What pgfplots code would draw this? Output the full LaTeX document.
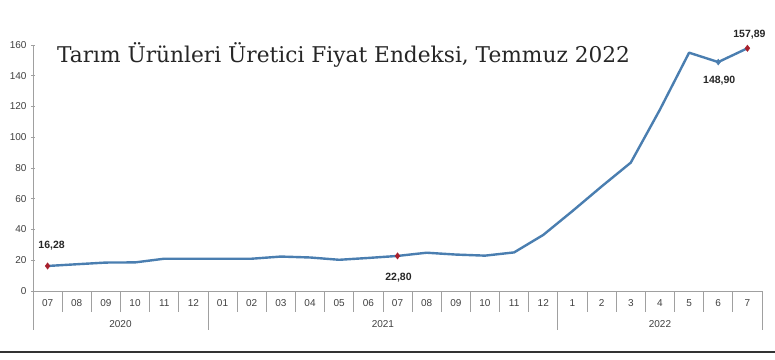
\documentclass[border=0pt]{standalone}
\usepackage{pgfplots}
\pgfplotsset{compat=1.18}
\usepackage{fontspec}
\setmainfont{Liberation Sans}
\newfontfamily\titlefont{DejaVu Serif}
\definecolor{linec}{HTML}{4A7EB0}
\definecolor{redm}{HTML}{A8202C}
\definecolor{axgray}{HTML}{A0A0A0}
\definecolor{txt}{HTML}{404040}
\begin{document}
\begin{tikzpicture}
\useasboundingbox (-33pt,-68pt) rectangle (742pt,291pt);
\begin{axis}[
  scale only axis, width=729pt, height=246pt,
  xmin=-0.5, xmax=24.5, ymin=0, ymax=160,
  axis x line=bottom, axis y line=left,
  axis line style={axgray, line width=0.8pt, -},
  xtick={0,...,24},
  xticklabels={07,08,09,10,11,12,01,02,03,04,05,06,07,08,09,10,11,12,1,2,3,4,5,6,7},
  x tick style={draw=none},
  xticklabel style={font=\fontsize{10}{11}\selectfont, text=txt, yshift=-3pt},
  ytick={0,20,...,160},
  y tick style={axgray, line width=0.8pt},
  major tick length=4pt,
  yticklabel style={font=\fontsize{10}{11}\selectfont, text=txt, xshift=-1pt},
  /pgf/number format/assume math mode=true,
  clip=false,
]
\addplot[linec, line width=2.4pt, line join=round, mark=none] coordinates {
(0,16.28) (1,17.4) (2,18.5) (3,18.6) (4,21.0) (5,21.0) (6,21.0) (7,21.0)
(8,22.4) (9,21.8) (10,20.3) (11,21.5) (12,22.80) (13,24.9) (14,23.7)
(15,23.0) (16,25.1) (17,36.5) (18,52) (19,68) (20,83.5) (21,118)
(22,155) (23,148.90) (24,157.89)};
\addplot[only marks, mark=diamond*, mark size=3.2pt, redm] coordinates {(0,16.28) (12,22.80) (24,157.89)};
\addplot[only marks, mark=diamond*, mark size=3pt, linec] coordinates {(23,148.90)};
\pgfplotsinvokeforeach{0.5,1.5,...,23.5}{
  \draw[axgray, line width=0.8pt] (axis cs:#1,0) -- ([yshift=-21pt]axis cs:#1,0);
}
\pgfplotsinvokeforeach{-0.5,5.5,17.5,24.5}{
  \draw[axgray, line width=0.8pt] (axis cs:#1,0) -- ([yshift=-39pt]axis cs:#1,0);
}
\node[font=\fontsize{10}{11}\selectfont, text=txt] at ([yshift=-33pt]axis cs:2.5,0) {2020};
\node[font=\fontsize{10}{11}\selectfont, text=txt] at ([yshift=-33pt]axis cs:11.5,0) {2021};
\node[font=\fontsize{10}{11}\selectfont, text=txt] at ([yshift=-33pt]axis cs:21,0) {2022};
\node[font=\bfseries\fontsize{10.5}{11}\selectfont, text=black!85] at ([xshift=4pt,yshift=20pt]axis cs:0,16.28) {16,28};
\node[font=\bfseries\fontsize{10.5}{11}\selectfont, text=black!85] at ([xshift=1pt,yshift=-22pt]axis cs:12,22.80) {22,80};
\node[font=\bfseries\fontsize{10.5}{11}\selectfont, text=black!85] at ([xshift=1pt,yshift=-19pt]axis cs:23,148.90) {148,90};
\node[font=\bfseries\fontsize{10.5}{11}\selectfont, text=black!85] at ([xshift=2pt,yshift=14pt]axis cs:24,157.89) {157,89};
\node[font=\titlefont\fontsize{21.7}{24}\selectfont, text=black!85] at ([yshift=-10pt]axis cs:10.15,160) {Tarım Ürünleri Üretici Fiyat Endeksi, Temmuz 2022};
\end{axis}
\draw[black!80, line width=1.5pt] (-33pt,-61pt) -- (742pt,-61pt);
\end{tikzpicture}
\end{document}
